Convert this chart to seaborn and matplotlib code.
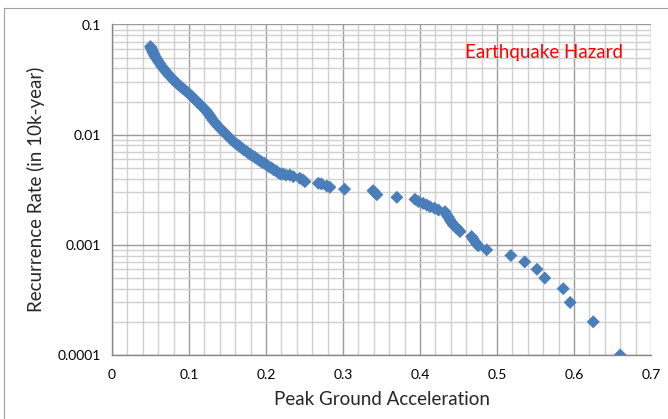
import matplotlib
matplotlib.use("Agg")
import matplotlib.pyplot as plt
from matplotlib.ticker import LogLocator, MultipleLocator, FixedLocator, NullFormatter
from matplotlib.lines import Line2D
import seaborn as sns
import pandas as pd

# ========================
# DATA
# ========================

pga = [
    0.050, 0.051, 0.052, 0.053, 0.054, 0.055, 0.056, 0.058, 0.060, 0.062,
    0.0645, 0.067, 0.069, 0.071, 0.073, 0.0753, 0.078, 0.080, 0.082, 0.084,
    0.086, 0.089, 0.092, 0.095, 0.098, 0.101, 0.104, 0.107, 0.110, 0.112,
    0.115, 0.118, 0.121, 0.123, 0.125, 0.127, 0.129, 0.131, 0.134, 0.136,
    0.139, 0.142, 0.145, 0.147, 0.150, 0.153, 0.156, 0.159, 0.162, 0.165,
    0.168, 0.171, 0.174, 0.177, 0.180, 0.183, 0.186, 0.189, 0.192, 0.195,
    0.198, 0.201, 0.204, 0.207, 0.210, 0.213, 0.216, 0.219, 0.222, 0.226,
    0.231, 0.2355, 0.244, 0.248, 0.2506, 0.268, 0.272, 0.279, 0.283, 0.302,
    0.339, 0.341, 0.344, 0.370, 0.3935, 0.398, 0.404, 0.4087, 0.413, 0.419,
    0.424, 0.4325, 0.4347, 0.437, 0.439, 0.441, 0.443, 0.4455, 0.4477, 0.450,
    0.452, 0.467, 0.469, 0.4714, 0.4735, 0.4757, 0.4866, 0.518, 0.536, 0.552,
    0.562, 0.586, 0.595, 0.625, 0.660,
]

rate = [
    0.0630, 0.0610, 0.0588, 0.0566, 0.0548, 0.0530, 0.0512, 0.0488, 0.0465, 0.0443,
    0.0417, 0.0398, 0.0382, 0.0367, 0.0353, 0.0339, 0.0324, 0.0313, 0.0303, 0.0294,
    0.0285, 0.0274, 0.0263, 0.0252, 0.0242, 0.0232, 0.0221, 0.0211, 0.0201, 0.0194,
    0.0186, 0.0177, 0.0168, 0.0163, 0.0156, 0.0149, 0.0142, 0.0135, 0.0128, 0.0123,
    0.0117, 0.0111, 0.0106, 0.0103, 0.0098, 0.0093, 0.0089, 0.0085, 0.0082, 0.0079,
    0.0076, 0.0073, 0.0071, 0.0068, 0.0066, 0.0064, 0.0062, 0.0060, 0.0058, 0.0056,
    0.0055, 0.0053, 0.0051, 0.0050, 0.0048, 0.0047, 0.0045, 0.0044, 0.0044, 0.0043,
    0.0043, 0.00416, 0.00402, 0.00388, 0.00375, 0.00362, 0.00357, 0.00342, 0.00333, 0.00320,
    0.0031, 0.0030, 0.00285, 0.00270, 0.00259, 0.00247, 0.00238, 0.00230, 0.00222, 0.00215,
    0.00207, 0.00200, 0.00187, 0.00178, 0.00168, 0.00160, 0.00152, 0.00147, 0.00142, 0.00137,
    0.00132, 0.00119, 0.00113, 0.00107, 0.00102, 0.00098, 0.00090, 0.0008, 0.0007, 0.0006,
    0.0005, 0.0004, 0.0003, 0.0002, 0.0001,
]

x_ticks = [0, 0.1, 0.2, 0.3, 0.4, 0.5, 0.6, 0.7]
x_tick_labels = ["0", "0.1", "0.2", "0.3", "0.4", "0.5", "0.6", "0.7"]
y_ticks = [0.0001, 0.001, 0.01, 0.1]
y_tick_labels = ["0.0001", "0.001", "0.01", "0.1"]

df = pd.DataFrame({"pga": pga, "rate": rate})

# ========================
# STYLE
# ========================

sns.set_style("white")
plt.rcParams["font.family"] = ["Lato", "DejaVu Sans"]

fig = plt.figure(figsize=(6.68, 4.19), dpi=100)
ax = fig.add_axes([112 / 668, 1 - 355 / 419, (651 - 112) / 668, (355 - 24.5) / 419])

sns.scatterplot(
    data=df, x="pga", y="rate", ax=ax,
    marker="D", s=44, color="#4a7ebb", edgecolor="none", linewidth=0, zorder=3,
)

ax.set_yscale("log")
ax.set_xlim(0, 0.7)
ax.set_ylim(0.0001, 0.1)

# grid (Excel style)
ax.xaxis.set_major_locator(FixedLocator(x_ticks))
ax.xaxis.set_minor_locator(MultipleLocator(0.02))
ax.yaxis.set_major_locator(FixedLocator(y_ticks))
ax.yaxis.set_minor_locator(LogLocator(base=10, subs=range(2, 10)))
ax.yaxis.set_minor_formatter(NullFormatter())
ax.set_xticklabels(x_tick_labels)
ax.set_yticklabels(y_tick_labels)

ax.grid(True, which="major", color="#9a9a9a", linewidth=1.0, zorder=1)
ax.grid(True, which="minor", color="#d0d0d0", linewidth=1.0, zorder=0)
ax.set_axisbelow(True)

for side in ["top", "right"]:
    ax.spines[side].set_visible(False)
for side in ["left", "bottom"]:
    ax.spines[side].set_color("#868686")
    ax.spines[side].set_linewidth(1.0)

ax.tick_params(axis="both", which="major", direction="out", length=4, width=0.9,
               color="#868686", labelsize=10, labelcolor="#000000", pad=4)
ax.tick_params(axis="both", which="minor", length=0)
ax.tick_params(axis="x", which="major", pad=6)

ax.set_xlabel("Peak Ground Acceleration", fontsize=13.5, labelpad=7)
ax.set_ylabel("Recurrence Rate (in 10k-year)", fontsize=13.5, labelpad=9)

ax.text(0.458, 0.0555, "Earthquake Hazard", color="#ff0000", fontsize=13.5,
        va="center", ha="left", zorder=4)

# chart area border (left and top edges are visible in the reference)
fig.add_artist(Line2D([4 / 668, 4 / 668], [0, 1 - 8 / 419], color="#a0a0a0", linewidth=0.8))
fig.add_artist(Line2D([4 / 668, 1], [1 - 8 / 419, 1 - 8 / 419], color="#a0a0a0", linewidth=0.8))

fig.savefig("out.png", dpi=100)
